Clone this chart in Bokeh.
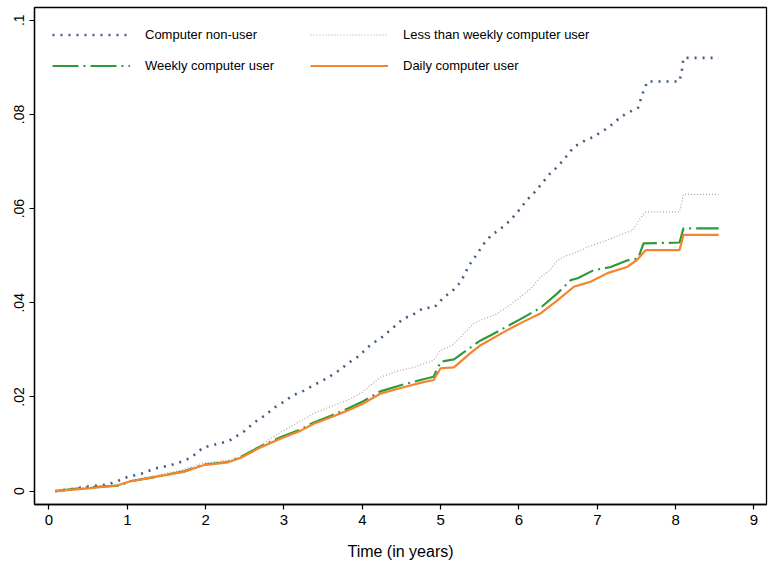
from bokeh.plotting import figure
from bokeh.models import Range1d, FixedTicker, CustomJSTickFormatter, Legend, LegendItem
from bokeh.embed import file_html
from bokeh.resources import INLINE

# ---- data ----
nonuser_t = [0.08, 0.3, 0.5, 0.75, 0.9, 1.0, 1.2, 1.35, 1.55, 1.7, 1.82, 1.97, 2.1, 2.3, 2.5, 2.62,
             2.75, 2.88, 3.0, 3.12, 3.25, 3.4, 3.55, 3.7, 3.82, 3.95, 4.1, 4.25, 4.4, 4.53, 4.65,
             4.78, 4.92, 5.04, 5.15, 5.26, 5.36, 5.45, 5.55, 5.65, 5.75, 5.85, 5.97, 6.1, 6.2, 6.3,
             6.4, 6.5, 6.6, 6.7, 6.85, 6.95, 7.1, 7.2, 7.3, 7.42, 7.52, 7.58, 7.64, 8.05, 8.08, 8.1, 8.55]
nonuser_v = [0, 0.0005, 0.001, 0.0014, 0.0023, 0.003, 0.0038, 0.0048, 0.0055, 0.0063, 0.0072, 0.0093,
             0.0098, 0.0107, 0.0128, 0.0146, 0.016, 0.0178, 0.019, 0.0204, 0.0213, 0.0227, 0.024,
             0.0256, 0.0272, 0.0286, 0.031, 0.0327, 0.0348, 0.0367, 0.0375, 0.0389, 0.039, 0.0412,
             0.0425, 0.0445, 0.0479, 0.050, 0.0525, 0.0544, 0.0555, 0.0569, 0.059, 0.0618, 0.0635,
             0.0655, 0.0675, 0.069, 0.071, 0.0731, 0.0745, 0.0752, 0.0768, 0.078, 0.0795, 0.0806,
             0.0814, 0.0845, 0.087, 0.087, 0.0895, 0.092, 0.092]

lessweekly_t = [0.08, 0.5, 0.9, 1.05, 1.35, 1.7, 1.97, 2.3, 2.5, 2.7, 2.96, 3.2, 3.38, 3.6, 3.81, 4.0,
                4.23, 4.45, 4.66, 4.91, 5.0, 5.15, 5.26, 5.42, 5.51, 5.7, 5.85, 6.0, 6.15, 6.28, 6.4,
                6.49, 6.6, 6.7, 6.9, 7.13, 7.3, 7.45, 7.55, 7.62, 8.05, 8.1, 8.55]
lessweekly_v = [0, 0.0009, 0.0013, 0.0023, 0.0033, 0.0045, 0.006, 0.0066, 0.0076, 0.0098, 0.0125,
                0.0148, 0.0165, 0.018, 0.0193, 0.021, 0.0242, 0.0255, 0.0263, 0.0278, 0.0299, 0.031,
                0.0328, 0.0356, 0.0363, 0.0375, 0.0391, 0.041, 0.043, 0.0455, 0.047, 0.049, 0.050,
                0.0505, 0.052, 0.0533, 0.0545, 0.0554, 0.058, 0.0593, 0.0593, 0.063, 0.063]

weekly_t = [0.08, 0.5, 0.9, 1.04, 1.35, 1.72, 1.97, 2.28, 2.45, 2.7, 2.96, 3.2, 3.38, 3.6, 3.81, 4.0,
            4.23, 4.49, 4.74, 4.91, 5.0, 5.17, 5.38, 5.51, 5.64, 5.85, 6.06, 6.28, 6.49, 6.66, 6.75,
            6.95, 7.17, 7.38, 7.52, 7.59, 8.05, 8.1, 8.55]
weekly_v = [0, 0.0008, 0.0012, 0.0021, 0.003, 0.0042, 0.0056, 0.0062, 0.0073, 0.0095, 0.0115, 0.013,
            0.0146, 0.016, 0.0175, 0.019, 0.0212, 0.0225, 0.0236, 0.0243, 0.0275, 0.028, 0.0305,
            0.032, 0.0331, 0.035, 0.0369, 0.039, 0.042, 0.0448, 0.0452, 0.0469, 0.0476, 0.049,
            0.0494, 0.0526, 0.0528, 0.0558, 0.0558]

daily_t = [0.08, 0.5, 0.87, 1.04, 1.34, 1.72, 1.97, 2.28, 2.45, 2.7, 2.96, 3.21, 3.38, 3.6, 3.81, 4.0,
           4.23, 4.49, 4.74, 4.91, 5.0, 5.17, 5.38, 5.51, 5.85, 6.06, 6.28, 6.49, 6.7, 6.92, 7.13,
           7.38, 7.5, 7.62, 8.05, 8.1, 8.55]
daily_v = [0, 0.0006, 0.0012, 0.0021, 0.003, 0.0041, 0.0055, 0.0061, 0.0071, 0.0093, 0.0112, 0.0128,
           0.0143, 0.0157, 0.0171, 0.0185, 0.0207, 0.0219, 0.023, 0.0236, 0.0261, 0.0263, 0.0293,
           0.031, 0.0342, 0.036, 0.0378, 0.0405, 0.0434, 0.0445, 0.0463, 0.0476, 0.049, 0.0512,
           0.0512, 0.0544, 0.0544]

labels = ["Computer non-user", "Less than weekly computer user",
          "Weekly computer user", "Daily computer user"]
x_ticks = [0, 1, 2, 3, 4, 5, 6, 7, 8, 9]
y_ticks = [0, 0.02, 0.04, 0.06, 0.08, 0.1]
x_title = "Time (in years)"

FONT = "Liberation Sans"

p = figure(width=770, height=570, output_backend="svg", toolbar_location=None,
           x_range=Range1d(-0.185, 9.16), y_range=Range1d(-0.00283, 0.1027),
           min_border_left=34, min_border_right=4, min_border_top=7, min_border_bottom=66)
p.background_fill_color = "white"
p.border_fill_color = "white"
p.outline_line_color = "black"
p.outline_line_width = 1.3
p.xgrid.visible = False
p.ygrid.visible = False

r_non = p.line(nonuser_t, nonuser_v, line_color="#3f5d80", line_width=2.6, line_dash="2 6")
r_less = p.line(lessweekly_t, lessweekly_v, line_color="#ada69c", line_width=1.2, line_dash="1 2")
r_week = p.line(weekly_t, weekly_v, line_color="#2f9a3a", line_width=2.2, line_dash="26 5 2 5")
r_daily = p.line(daily_t, daily_v, line_color="#f5842c", line_width=2.2)

# axes
p.xaxis.ticker = FixedTicker(ticks=x_ticks)
p.yaxis.ticker = FixedTicker(ticks=y_ticks)
p.yaxis.formatter = CustomJSTickFormatter(code="""
    if (tick == 0) return "0";
    let s = tick.toFixed(2).replace(/^0/, "");
    s = s.replace(/0$/, "");
    return s;
""")
for ax in (p.xaxis, p.yaxis):
    ax.axis_line_color = "black"
    ax.axis_line_width = 1.3
    ax.major_tick_line_color = "black"
    ax.major_tick_line_width = 1.2
    ax.major_tick_in = 0
    ax.major_tick_out = 5
    ax.minor_tick_line_color = None
    ax.major_label_text_font = FONT
    ax.major_label_text_color = "black"
    ax.major_label_standoff = 5

p.xaxis.major_label_text_font_size = "15px"
p.yaxis.major_label_text_font_size = "14px"
p.yaxis.major_label_orientation = "vertical"
p.xaxis.axis_label = x_title
p.xaxis.axis_label_text_font = FONT
p.xaxis.axis_label_text_font_size = "16px"
p.xaxis.axis_label_text_font_style = "normal"
p.xaxis.axis_label_text_color = "black"
p.xaxis.axis_label_standoff = 15

# legend: two columns
def make_legend(items, loc):
    lg = Legend(items=items, location=loc, orientation="vertical")
    lg.border_line_color = None
    lg.background_fill_alpha = 0
    lg.padding = 0
    lg.margin = 0
    lg.spacing = 8
    lg.glyph_width = 78
    lg.glyph_height = 23
    lg.label_height = 23
    lg.label_standoff = 15
    lg.label_text_font = FONT
    lg.label_text_font_size = "13px"
    lg.label_text_color = "black"
    return lg

lg1 = make_legend([LegendItem(label=labels[0], renderers=[r_non]),
                   LegendItem(label=labels[2], renderers=[r_week])], (18, 427))
lg2 = make_legend([LegendItem(label=labels[1], renderers=[r_less]),
                   LegendItem(label=labels[3], renderers=[r_daily])], (276, 427))
p.add_layout(lg1)
p.add_layout(lg2)

open("out.html", "w").write(file_html(p, INLINE))
